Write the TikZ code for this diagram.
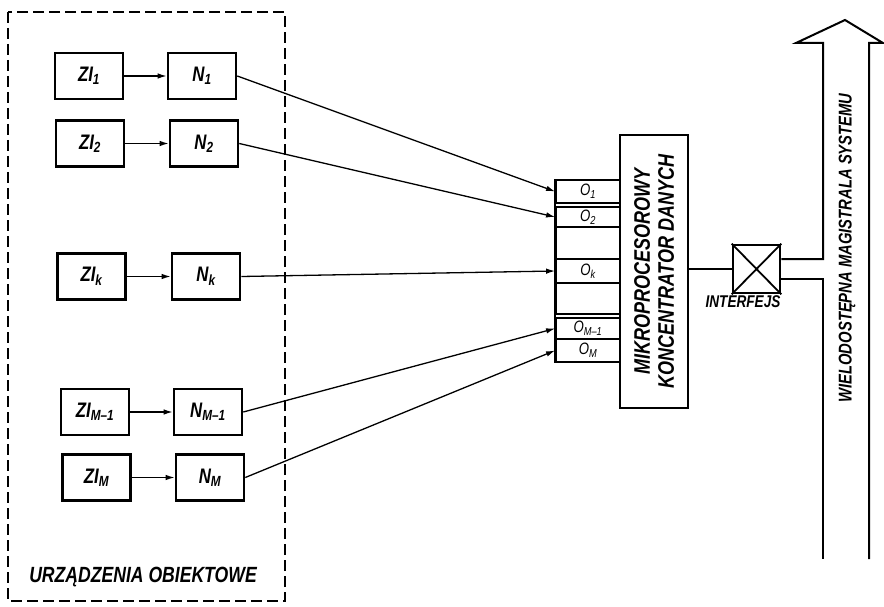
\documentclass[tikz,border=0pt]{standalone}
\usepackage{fontspec}
\setmainfont{Liberation Sans}[FakeStretch=0.8]
\usetikzlibrary{arrows.meta}
\newcommand\lsub[1]{\textsubscript{#1}}
\begin{document}
\begin{tikzpicture}[x=1pt,y=-1pt,
  blk/.style={draw,line width=2.6pt,inner sep=0pt,minimum width=68pt,minimum height=46pt,font=\fontsize{21}{21}\selectfont\bfseries\itshape},
  port/.style={draw,line width=1.8pt,minimum width=64pt,inner sep=0pt,font=\fontsize{16.5}{16.5}\selectfont\itshape},
  conn/.style={line width=1.3pt,-{Latex[length=9pt,width=5.5pt]}},
  lbl/.style={font=\fontsize{22}{22}\selectfont\bfseries\itshape}
]
\useasboundingbox (0,0) rectangle (884,607);
% dashed frame
\draw[line width=1.5pt,dash pattern=on 11pt off 5pt] (8,12) rectangle (285,601);
\node[lbl] (obj) at (143,577) {URZĄDZENIA OBIEKTOWE};
% sources and normalisers
\node[blk] (zi1) at (89,76) {ZI\lsub{1}};
\node[blk] (n1) at (202,76) {N\lsub{1}};
\node[blk] (zi2) at (90,143.5) {ZI\lsub{2}};
\node[blk] (n2) at (204,143.5) {N\lsub{2}};
\node[blk] (zik) at (91.5,276.5) {ZI\lsub{k}};
\node[blk] (nk) at (206,276.5) {N\lsub{k}};
\node[blk] (zim1) at (95,412) {ZI\lsub{M–1}};
\node[blk] (nm1) at (208,412) {N\lsub{M–1}};
\node[blk] (zim) at (96.5,477.5) {ZI\lsub{M}};
\node[blk] (nm) at (210,477.5) {N\lsub{M}};
\foreach \a/\b in {zi1/n1,zi2/n2,zik/nk,zim1/nm1,zim/nm}
  \draw[conn] (\a) -- (\b);
% ports
\node[port,minimum height=23pt] (o1) at (588,191.5) {O\lsub{1}};
\node[port,minimum height=20pt] (o2) at (588,217) {O\lsub{2}};
\node[port,minimum height=32pt] (e1) at (588,243) {};
\node[port,minimum height=24pt] (ok) at (588,271) {O\lsub{k}};
\node[port,minimum height=31pt] (e2) at (588,298.5) {};
\node[port,minimum height=21pt] (om1) at (588,328.5) {O\lsub{M–1}};
\node[port,minimum height=23pt] (om) at (588,350.5) {O\lsub{M}};
\draw[line width=1.8pt] (o1.north west) -- (om.south west);
% concentrator
\node[draw,line width=2.6pt,rotate=90,minimum width=273pt,minimum height=68pt,inner sep=0pt,align=center,
  font=\fontsize{22.5}{24}\selectfont\bfseries\itshape] (conc) at (654,271.5) {MIKROPROCESOROWY\\KONCENTRATOR DANYCH};
% connectors
\draw[conn] (n1.east) -- (o1.west);
\draw[conn] (n2.east) -- (o2.west);
\draw[conn] (nk.east) -- (ok.west);
\draw[conn] (nm1.east) -- (om1.west);
\draw[conn] (nm.east) -- (om.west);
% interface
\node[draw,line width=2.6pt,minimum width=47pt,minimum height=48pt,inner sep=0pt] (ifc) at (756.5,269) {};
\draw[line width=1.8pt] (ifc.north west) -- (ifc.south east) (ifc.north east) -- (ifc.south west);
\node[font=\fontsize{17}{17}\selectfont\bfseries\itshape] (ifl) at (743,302) {INTERFEJS};
\draw[line width=1.8pt] (conc.south |- ifc.west) -- (ifc.west);
% bus
\coordinate (bt) at (823,259);
\coordinate (bb) at (823,279);
\draw[line width=2pt] (bt -| ifc.east) -- (bt) -- (823,43) -- (796,43) -- (845,20) -- (883,43) -- (869,43) -- (869,559);
\draw[line width=2pt] (bb -| ifc.east) -- (bb) -- (823,559);
\node[rotate=90,font=\fontsize{18.5}{18.5}\selectfont\bfseries\itshape] (bus) at (847,248) {WIELODOSTĘPNA MAGISTRALA SYSTEMU};
\end{tikzpicture}
\end{document}
